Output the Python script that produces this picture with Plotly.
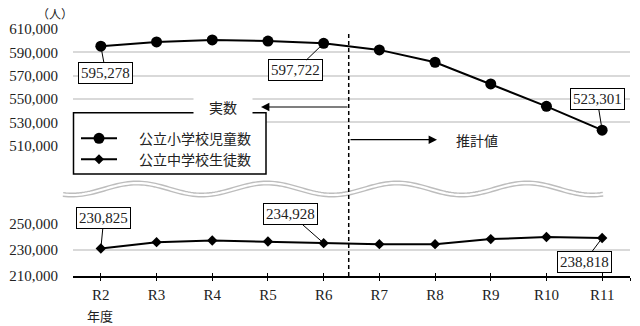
import numpy as np
import plotly.graph_objects as go

# ---------------- data ----------------
years = ["R2", "R3", "R4", "R5", "R6", "R7", "R8", "R9", "R10", "R11"]
elementary = [595278, 598900, 600600, 599700, 597722, 592100, 581500, 562900, 543700, 523301]
junior = [230825, 235700, 236950, 236200, 234928, 234160, 234160, 238000, 239550, 238818]
top_ticks = [510000, 530000, 550000, 570000, 590000, 610000]
bottom_ticks = [210000, 230000, 250000]
series_names = ["公立小学校児童数", "公立中学校生徒数"]

# labelled points: (index, ax, ay)
labels_el = [(0, 5, 27), (4, -28, 27), (9, -5, -31)]
labels_jr = [(0, 3, -31), (4, -33, -29), (9, -18, 24)]

# ---------------- geometry helpers (pixels -> paper) ----------------
W, H = 640, 326
ML, MR, MT, MB = 73, 10, 29, 50
PW, PH = W - ML - MR, H - MT - MB


def px(x):
    return (x - ML) / PW


def py(y):
    return (H - MB - y) / PH


SERIF = "Liberation Serif"
JP = "Noto Sans CJK JP"
idx = list(range(len(years)))

fig = go.Figure()
fig.add_trace(go.Scatter(x=idx, y=elementary, xaxis="x", yaxis="y2", mode="lines+markers",
                         line=dict(color="black", width=2), marker=dict(symbol="circle", size=11, color="black"),
                         showlegend=False, name=series_names[0]))
fig.add_trace(go.Scatter(x=idx, y=junior, xaxis="x", yaxis="y", mode="lines+markers",
                         line=dict(color="black", width=2), marker=dict(symbol="diamond", size=8, color="black"),
                         showlegend=False, name=series_names[1]))
# invisible trace for overlay tick axis
fig.add_trace(go.Scatter(x=[0], y=[220000], xaxis="x2", yaxis="y", mode="markers",
                         marker=dict(opacity=0), showlegend=False, hoverinfo="skip"))

tickv = idx + [len(years) - 0.5]
tickt = years + [""]
xrange_ = [-0.5, len(years) - 0.5]

fig.update_layout(
    width=W, height=H, margin=dict(l=ML, r=MR, t=MT, b=MB),
    paper_bgcolor="white", plot_bgcolor="white", showlegend=False,
    xaxis=dict(range=xrange_, tickmode="array", tickvals=tickv, ticktext=tickt,
               showgrid=False, zeroline=False, showline=True, linecolor="black", linewidth=1.5,
               ticks="outside", ticklen=3, tickwidth=1.2, tickcolor="black",
               tickfont=dict(family=SERIF, size=15, color="#222"), anchor="y", ticklabelstandoff=1),
    xaxis2=dict(range=xrange_, tickmode="array", tickvals=tickv, ticktext=tickt, overlaying="x",
                anchor="y", showticklabels=False, showgrid=False, zeroline=False, showline=False,
                ticks="inside", ticklen=3, tickwidth=1.2, tickcolor="black"),
    yaxis=dict(domain=[0, py(223.3)], range=[210000, 250000], tickmode="array", tickvals=bottom_ticks,
               tickformat=",d", showgrid=True, gridcolor="#d9d9d9", gridwidth=1.5, zeroline=False,
               showline=False, ticks="", tickfont=dict(family=SERIF, size=15, color="#222"),
               ticklabelstandoff=14),
    yaxis2=dict(domain=[py(145.7), 1], range=[510000, 610000], tickmode="array", tickvals=top_ticks,
                tickformat=",d", showgrid=True, gridcolor="#d9d9d9", gridwidth=1.5, zeroline=False,
                showline=False, ticks="", anchor="x", tickfont=dict(family=SERIF, size=15, color="#222"),
                ticklabelstandoff=14),
    separators=".,",
)

shapes = []
# wave break (double line)
xs = np.linspace(63, 603, 200)
ys = 189 - 6 * np.cos(2 * np.pi * (xs - 137) / 130)
path = "M " + " L ".join(f"{px(a):.5f},{py(b):.5f}" for a, b in zip(xs, ys))
shapes.append(dict(type="path", path=path, xref="paper", yref="paper", layer="above",
                   line=dict(color="#bdbdbd", width=5)))
shapes.append(dict(type="path", path=path, xref="paper", yref="paper", layer="above",
                   line=dict(color="white", width=2.2)))
# dashed divider between actual and estimate
shapes.append(dict(type="line", xref="x", yref="paper", x0=4.45, x1=4.45, y0=0, y1=py(31),
                   line=dict(color="black", width=1.5, dash="4px,3px"), layer="above"))
# legend box
shapes.append(dict(type="rect", xref="paper", yref="paper", x0=px(73.5), x1=px(266), y0=py(174), y1=py(112.7),
                   fillcolor="white", line=dict(color="black", width=1.5), layer="above"))
leg_y = [138.3, 159.3]
for k, ly in enumerate(leg_y):
    shapes.append(dict(type="line", xref="paper", yref="paper", x0=px(81), x1=px(117), y0=py(ly), y1=py(ly),
                       line=dict(color="black", width=2), layer="above"))
    if k == 0:
        shapes.append(dict(type="circle", xref="paper", yref="paper", xsizemode="pixel", ysizemode="pixel",
                           xanchor=px(99), yanchor=py(ly), x0=-5.5, x1=5.5, y0=-5.5, y1=5.5,
                           fillcolor="black", line=dict(color="black", width=0), layer="above"))
    else:
        shapes.append(dict(type="path", xref="paper", yref="paper", xsizemode="pixel", ysizemode="pixel",
                           xanchor=px(99), yanchor=py(ly), path="M 0,5 L 5,0 L 0,-5 L -5,0 Z",
                           fillcolor="black", line=dict(color="black", width=0), layer="above"))
fig.update_layout(shapes=shapes)

ann = []
for k, ly in enumerate(leg_y):
    ann.append(dict(text=series_names[k], xref="paper", yref="paper", x=px(137), y=py(ly), xanchor="left",
                    yanchor="middle", showarrow=False, font=dict(family=JP, size=14, color="#222")))

box = dict(showarrow=True, arrowhead=0, arrowwidth=1, arrowcolor="black", bordercolor="black",
           borderwidth=1, borderpad=2, bgcolor="white", font=dict(family=SERIF, size=15, color="#222"))
for i, ax, ay in labels_el:
    ann.append(dict(box, x=idx[i], y=elementary[i], xref="x", yref="y2", ax=ax, ay=ay, text=f"{elementary[i]:,}"))
for i, ax, ay in labels_jr:
    ann.append(dict(box, x=idx[i], y=junior[i], xref="x", yref="y", ax=ax, ay=ay, text=f"{junior[i]:,}"))

# actual / estimate arrows (88 px long, from the divider)
ann.append(dict(text="", x=px(349 - 88), y=py(107), xref="paper", yref="paper", ax=88, ay=0,
                xanchor="center", yanchor="middle",
                showarrow=True, arrowhead=2, arrowsize=1.4, arrowwidth=1.2, arrowcolor="black"))
ann.append(dict(text="", x=px(349 + 88), y=py(139.7), xref="paper", yref="paper", ax=-88, ay=0,
                xanchor="center", yanchor="middle",
                showarrow=True, arrowhead=2, arrowsize=1.4, arrowwidth=1.2, arrowcolor="black"))
txt = dict(xref="paper", yref="paper", showarrow=False, xanchor="center", yanchor="middle")
ann.append(dict(txt, text="　実数　", x=px(223), y=py(107), bgcolor="white",
                font=dict(family=JP, size=14, color="#222")))
ann.append(dict(txt, text="　推計値　", x=px(477), y=py(140), bgcolor="white",
                font=dict(family=JP, size=14, color="#222")))
ann.append(dict(txt, text="（人）", x=px(55), y=py(13), font=dict(family=JP, size=12, color="#222")))
ann.append(dict(txt, text="年度", x=px(100), y=py(315), font=dict(family=JP, size=13, color="#222")))
fig.update_layout(annotations=ann)

fig.write_html("out.html")
